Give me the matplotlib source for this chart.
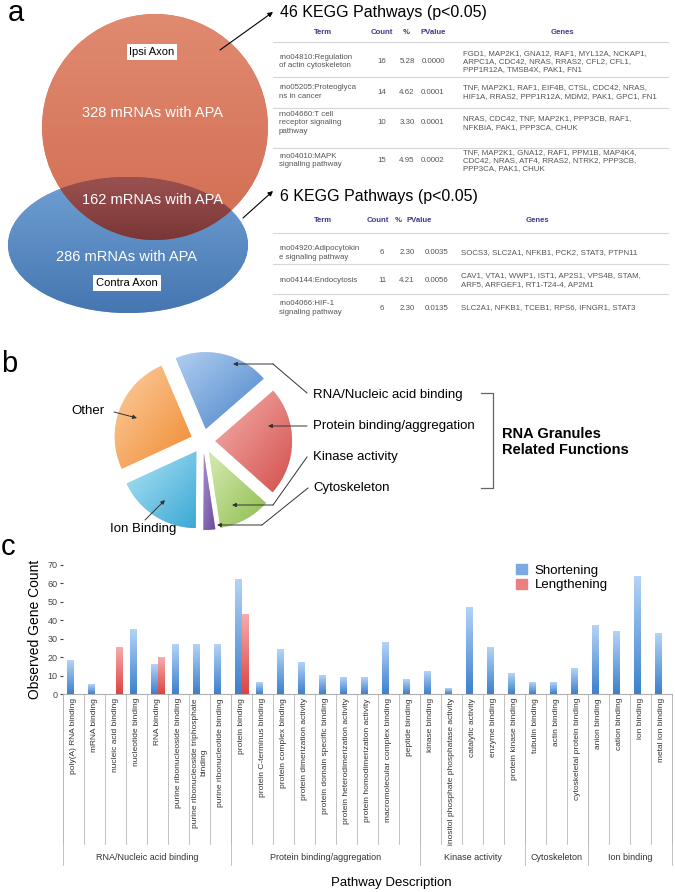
import numpy as np
import matplotlib
matplotlib.use('Agg')
import matplotlib.pyplot as plt
from matplotlib.colors import LinearSegmentedColormap
from matplotlib.patches import Circle, Ellipse, Polygon, Patch

plt.rcParams['font.family'] = ['Liberation Sans', 'DejaVu Sans']

# ---- panel a data
venn_sets = ['Ipsi Axon', 'Contra Axon']
venn_counts = [328, 162, 286]
kegg_titles = ['46 KEGG Pathways (p<0.05)', '6 KEGG Pathways (p<0.05)']
table_header = ['Term', 'Count', '%', 'PValue', 'Genes']

ipsi_terms = ['rno04810:Regulation\nof actin cytoskeleton', 'rno05205:Proteoglyca\nns in cancer',
              'rno04660:T cell\nreceptor signaling\npathway', 'rno04010:MAPK\nsignaling pathway']
ipsi_count = [16, 14, 10, 15]
ipsi_pct = ['5.28', '4.62', '3.30', '4.95']
ipsi_pval = ['0.0000', '0.0001', '0.0001', '0.0002']
ipsi_genes = ['FGD1, MAP2K1, GNA12, RAF1, MYL12A, NCKAP1,\nARPC1A, CDC42, NRAS, RRAS2, CFL2, CFL1,\nPPP1R12A, TMSB4X, PAK1, FN1',
              'TNF, MAP2K1, RAF1, EIF4B, CTSL, CDC42, NRAS,\nHIF1A, RRAS2, PPP1R12A, MDM2, PAK1, GPC1, FN1',
              'NRAS, CDC42, TNF, MAP2K1, PPP3CB, RAF1,\nNFKBIA, PAK1, PPP3CA, CHUK',
              'TNF, MAP2K1, GNA12, RAF1, PPM1B, MAP4K4,\nCDC42, NRAS, ATF4, RRAS2, NTRK2, PPP3CB,\nPPP3CA, PAK1, CHUK']

shared_terms = ['rno04920:Adipocytokin\ne signaling pathway', 'rno04144:Endocytosis',
                'rno04066:HIF-1\nsignaling pathway']
shared_count = [6, 11, 6]
shared_pct = ['2.30', '4.21', '2.30']
shared_pval = ['0.0035', '0.0056', '0.0135']
shared_genes = ['SOCS3, SLC2A1, NFKB1, PCK2, STAT3, PTPN11',
                'CAV1, VTA1, WWP1, IST1, AP2S1, VPS4B, STAM,\nARF5, ARFGEF1, RT1-T24-4, AP2M1',
                'SLC2A1, NFKB1, TCEB1, RPS6, IFNGR1, STAT3']

# ---- panel b data
pie_labels = ['RNA/Nucleic acid binding', 'Protein binding/aggregation', 'Kinase activity',
              'Cytoskeleton', 'Ion Binding', 'Other']
pie_sizes = [20, 23, 11, 2.5, 18, 25.5]

# ---- panel c data
categories = ['poly(A) RNA binding', 'mRNA binding', 'nucleic acid binding', 'nucleotide binding',
              'RNA binding', 'purine ribonucleoside binding',
              'purine ribonucleoside triphosphate\nbinding', 'purine ribonucleotide binding',
              'protein binding', 'protein C-terminus binding', 'protein complex binding',
              'protein dimerization activity', 'protein domain specific binding',
              'protein heterodimerization activity', 'protein homodimerization activity',
              'macromolecular complex binding', 'peptide binding', 'kinase binding',
              'inositol phosphate phosphatase activity', 'catalytic activity', 'enzyme binding',
              'protein kinase binding', 'tubulin binding', 'actin binding',
              'cytoskeletal protein binding', 'anion binding', 'cation binding', 'ion binding',
              'metal ion binding']
shortening = [18, 5, 0, 35, 16, 27, 27, 27, 62, 6, 24, 17, 10, 9, 9, 28, 8, 12, 3, 47, 25, 11,
              6, 6, 14, 37, 34, 64, 33]
lengthening = [0, 0, 25, 0, 20, 0, 0, 0, 43, 0, 0, 0, 0, 0, 0, 0, 0, 0, 0, 0, 0, 0,
               0, 0, 0, 0, 0, 0, 0]
groups = ['RNA/Nucleic acid binding', 'Protein binding/aggregation', 'Kinase activity',
          'Cytoskeleton', 'Ion binding']
group_sizes = [8, 9, 5, 3, 4]

W, H = 675, 892
fig = plt.figure(figsize=(W / 100, H / 100), dpi=100)


def fbox(left, top, w, h):
    return [left / W, 1 - (top + h) / H, w / W, h / H]


def grad_fill(ax, patch, c_light, c_dark, inverted=False, diag=False, zorder=1):
    v = patch.get_path().transformed(patch.get_patch_transform()).vertices
    x0, x1 = v[:, 0].min(), v[:, 0].max()
    y0, y1 = v[:, 1].min(), v[:, 1].max()
    t = np.linspace(0, 1, 128)
    if diag:
        g = (t[None, :] + t[:, None]) / 2
    else:
        g = np.repeat(t[:, None], 2, axis=1)
    cmap = LinearSegmentedColormap.from_list('g', [c_light, c_dark])
    ext = (x0, x1, y1, y0) if inverted else (x0, x1, y0, y1)
    im = ax.imshow(g, extent=ext, origin='upper', cmap=cmap, aspect='auto',
                   interpolation='bilinear', zorder=zorder)
    im.set_clip_path(patch)


# ---------------- panel c: bars
axb = fig.add_axes(fbox(63, 565, 609, 129))
x = np.arange(len(categories))
bw = 0.29
b1 = axb.bar(x - bw / 2, shortening, bw, color='#7aaae3', zorder=2)
b2 = axb.bar(x + bw / 2, lengthening, bw, color='#ec8080', zorder=2)
gcol = np.linspace(0, 1, 64)[:, None]
cm_blue = LinearSegmentedColormap.from_list('b', ['#3d80cc', '#b3d3f7'])
cm_red = LinearSegmentedColormap.from_list('r', ['#dc4444', '#f7abab'])
for bars, cm in ((b1, cm_blue), (b2, cm_red)):
    for p in bars:
        h = p.get_height()
        if h <= 0:
            continue
        x0 = p.get_x()
        axb.imshow(gcol, extent=(x0, x0 + p.get_width(), 0, h), origin='lower', cmap=cm,
                   aspect='auto', zorder=3)
axb.set_xlim(-0.5, len(categories) - 0.5)
axb.set_ylim(0, 70)
axb.set_yticks(range(0, 71, 10))
axb.tick_params(axis='y', labelsize=6.5, colors='#444444', length=2, pad=2)
axb.set_xticks([])
for s in ('top', 'right', 'left'):
    axb.spines[s].set_visible(False)
axb.spines['bottom'].set_color('#b0b0b0')
axb.spines['bottom'].set_linewidth(0.8)
axb.set_ylabel('Observed Gene Count', fontsize=10, labelpad=4)


def yf(py):
    return (694 - py) / 129


tr = axb.get_xaxis_transform()
for b in np.arange(-0.5, len(categories), 1):
    axb.plot([b, b], [0, yf(844)], transform=tr, clip_on=False, color='#b8b8b8', lw=0.6)
bounds = np.concatenate([[0], np.cumsum(group_sizes)]) - 0.5
for b in bounds:
    axb.plot([b, b], [0, yf(865)], transform=tr, clip_on=False, color='#b8b8b8', lw=0.6)
for i, c in enumerate(categories):
    axb.text(i, yf(698), c, transform=tr, rotation=90, ha='center', va='top',
             fontsize=6, color='#333333', multialignment='center')
for g, lo, hi in zip(groups, bounds[:-1], bounds[1:]):
    axb.text((lo + hi) / 2, yf(858), g, transform=tr, ha='center', va='center',
             fontsize=6.5, color='#333333')
axb.legend(handles=[Patch(color='#7aaae3'), Patch(color='#ec8080')],
           labels=['Shortening', 'Lengthening'], loc='upper left',
           bbox_to_anchor=(0.725, 1.1), frameon=False, fontsize=9.5,
           handlelength=0.8, handleheight=0.8, handletextpad=0.6, labelspacing=0.15)

# ---------------- panel b: pie
axp = fig.add_axes(fbox(203 - 96, 441 - 96, 192, 192))
light = ['#b2cff2', '#f5b3b0', '#d6eab0', '#a890d4', '#b0e4f6', '#fccfa2']
dark = ['#4a84c8', '#d4504c', '#8dbd4e', '#6a4a9c', '#3aa8d4', '#f08a30']
wedges, _ = axp.pie(pie_sizes, startangle=113, counterclock=False, explode=[0.16] * 6,
                    radius=1, colors=dark, wedgeprops=dict(edgecolor='white', linewidth=0.4))
for w, cl, cd in zip(wedges, light, dark):
    grad_fill(axp, w, cl, cd, diag=True, zorder=2)
axp.set_xlim(-1.25, 1.25)
axp.set_ylim(-1.25, 1.25)
axp.set_aspect('equal')
axp.axis('off')

# ---------------- overlay in pixel coordinates
ax0 = fig.add_axes([0, 0, 1, 1])
ax0.set_zorder(10)
ax0.patch.set_visible(False)
ax0.axis('off')

# venn
cc, cr = (155, 127), 113
ec, ea, eb = (128, 245), 120, 68
ell = Ellipse(ec, 2 * ea, 2 * eb, facecolor='#5b8cc2', edgecolor='none', zorder=1)
ax0.add_patch(ell)
grad_fill(ax0, ell, '#6fa0d4', '#4676b0', inverted=True, zorder=1)
circ = Circle(cc, cr, facecolor='#d97a60', edgecolor='none', zorder=2)
ax0.add_patch(circ)
grad_fill(ax0, circ, '#e08a70', '#d26d52', inverted=True, zorder=2)
t = np.linspace(0, 2 * np.pi, 1440)
cp = np.c_[cc[0] + cr * np.cos(t), cc[1] + cr * np.sin(t)]
ep = np.c_[ec[0] + ea * np.cos(t), ec[1] + eb * np.sin(t)]
cp = cp[((cp[:, 0] - ec[0]) / ea) ** 2 + ((cp[:, 1] - ec[1]) / eb) ** 2 <= 1]
ep = ep[(ep[:, 0] - cc[0]) ** 2 + (ep[:, 1] - cc[1]) ** 2 <= cr ** 2]
pts = np.vstack([cp, ep])
ctr = pts.mean(axis=0)
pts = pts[np.argsort(np.arctan2(pts[:, 1] - ctr[1], pts[:, 0] - ctr[0]))]
ov = Polygon(pts, closed=True, facecolor='#8a4444', edgecolor='none', zorder=3)
ax0.add_patch(ov)
grad_fill(ax0, ov, '#9a5250', '#7a3636', inverted=True, zorder=3)

box = dict(facecolor='white', edgecolor='none', pad=2)
ax0.text(152, 52, venn_sets[0], ha='center', va='center', fontsize=8, bbox=box, zorder=5)
ax0.text(127, 283, venn_sets[1], ha='center', va='center', fontsize=8, bbox=box, zorder=5)
ax0.text(152, 113, f'{venn_counts[0]} mRNAs with APA', ha='center', va='center',
         fontsize=10.5, color='white', zorder=5)
ax0.text(153, 200, f'{venn_counts[1]} mRNAs with APA', ha='center', va='center',
         fontsize=10.5, color='white', zorder=5)
ax0.text(127, 257, f'{venn_counts[2]} mRNAs with APA', ha='center', va='center',
         fontsize=10.5, color='white', zorder=5)

arr = dict(arrowstyle='-|>', color='black', lw=0.8, mutation_scale=7, shrinkA=0, shrinkB=0)
ax0.annotate('', xy=(273, 12), xytext=(220, 50), arrowprops=arr)
ax0.annotate('', xy=(273, 191), xytext=(243, 218), arrowprops=arr)
ax0.text(280, 13, kegg_titles[0], fontsize=11.5, va='center', ha='left')
ax0.text(280, 197, kegg_titles[1], fontsize=11.5, va='center', ha='left')


def draw_table(hy, hx, seps, ry, cx, terms, counts, pcts, pvals, genes):
    for name, xx in zip(table_header, hx):
        ax0.text(xx, hy, name, ha='center', va='center', fontsize=5.6, fontweight='bold',
                 color='#3b3b8e')
    for s in seps:
        ax0.plot([273, 668], [s, s], color='#d6d6d6', lw=0.8)
    for y, a, b, c, d, e in zip(ry, terms, counts, pcts, pvals, genes):
        kw = dict(va='center', fontsize=5.7, color='#555555', linespacing=1.25)
        ax0.text(cx[0], y, a, ha='left', **kw)
        ax0.text(cx[1], y, str(b), ha='center', **kw)
        ax0.text(cx[2], y, c, ha='center', **kw)
        ax0.text(cx[3], y, d, ha='center', **kw)
        ax0.text(cx[4], y, e, ha='left', **kw)


draw_table(32, [323, 382, 406, 433, 562], [42, 77, 108, 148], [61.5, 92, 123, 160.5],
           [279, 382, 407, 433, 463], ipsi_terms, ipsi_count, ipsi_pct, ipsi_pval, ipsi_genes)
draw_table(220, [323, 378, 398, 419, 537], [233, 264, 294], [253, 280, 308],
           [279, 382, 407, 437, 461], shared_terms, shared_count, shared_pct, shared_pval,
           shared_genes)

# pie annotations
lc = '#333333'
parr = dict(arrowstyle='-|>', color=lc, lw=0.7, mutation_scale=6, shrinkA=0, shrinkB=0)
ax0.plot([307, 273], [393, 364], color=lc, lw=0.7)
ax0.annotate('', xy=(233, 364), xytext=(273, 364), arrowprops=parr)
ax0.annotate('', xy=(268, 426), xytext=(307, 426), arrowprops=parr)
ax0.plot([307, 273], [457, 505], color=lc, lw=0.7)
ax0.annotate('', xy=(232, 505), xytext=(273, 505), arrowprops=parr)
ax0.plot([308, 262], [488, 525], color=lc, lw=0.7)
ax0.annotate('', xy=(217, 525), xytext=(262, 525), arrowprops=parr)
ax0.annotate('', xy=(137, 418), xytext=(114, 412), arrowprops=parr)
ax0.annotate('', xy=(165, 500), xytext=(145, 520), arrowprops=parr)
for lab, y in zip(pie_labels[:4], [395, 426, 457, 488]):
    ax0.text(313, y, lab, ha='left', va='center', fontsize=9.5)
ax0.text(88, 411, pie_labels[5], ha='center', va='center', fontsize=9.5)
ax0.text(143, 529, pie_labels[4], ha='center', va='center', fontsize=9.5)
ax0.plot([481, 493, 493, 481], [393, 393, 488, 488], color='#666666', lw=0.9)
ax0.text(502, 442, 'RNA Granules\nRelated Functions', ha='left', va='center', fontsize=10.5,
         fontweight='bold', linespacing=1.15)

ax0.text(391, 883, 'Pathway Description', ha='center', va='center', fontsize=9.5)

# panel letters
ax0.text(8, 21, 'a', fontsize=21, va='baseline', ha='left')
ax0.text(1, 372, 'b', fontsize=21, va='baseline', ha='left')
ax0.text(1, 555, 'c', fontsize=21, va='baseline', ha='left')

ax0.set_xlim(0, W)
ax0.set_ylim(H, 0)

fig.savefig('out.png', dpi=100)
